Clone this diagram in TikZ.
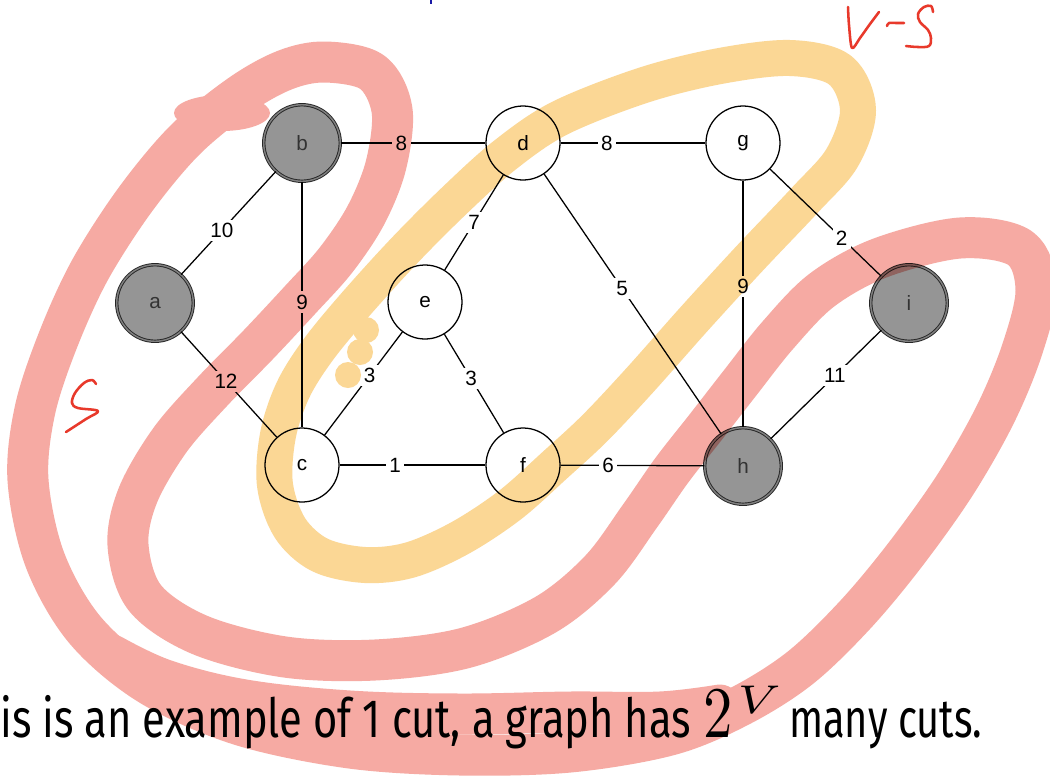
\documentclass[tikz,border=0pt]{standalone}
\usepackage{graphicx}
\usepackage{fontspec}
\setmainfont{Liberation Sans}
\newfontfamily\firafont{Fira Sans}
\definecolor{penred}{HTML}{F6AAA3}
\definecolor{penyellow}{HTML}{FBD795}
\definecolor{inkred}{HTML}{E8392B}
\definecolor{nodegrey}{HTML}{959595}
\definecolor{inkblue}{HTML}{1A1AA6}
\tikzset{
  vtx/.style={circle, draw=black, line width=0.95pt, minimum size=55.5pt, inner sep=0pt,
    font=\fontsize{15.5}{18}\selectfont},
  svtx/.style={circle, draw=black!85, fill=nodegrey, line width=0.7pt, double=black!50,
    double distance=1.1pt, minimum size=57.4pt, inner sep=0pt, text=black!80,
    font=\fontsize{15.5}{18}\selectfont},
  edge/.style={line width=0.95pt, black},
  wlabel/.style={fill=white, inner sep=2.5pt, font=\fontsize{15.5}{18}\selectfont},
  penline/.style={line cap=round, line join=round},
  ink/.style={inkred, line width=1.9pt, line cap=round, line join=round},
  bottomtext/.style={anchor=base west, inner sep=0pt},
}
\begin{document}
\begin{tikzpicture}[x=0.75pt,y=-0.75pt]
\useasboundingbox (0,0) rectangle (1050,776);
\fill[white] (0,0) rectangle (1050,776);

% vertices
\node[svtx] (a) at (155,303) {a};
\node[svtx] (b) at (302,143) {b};
\node[vtx]  (c) at (302,465) {c};
\node[vtx]  (d) at (523,143) {d};
\node[vtx]  (e) at (425,302) {e};
\node[vtx]  (f) at (523,465) {f};
\node[vtx]  (g) at (743,143) {g};
\node[svtx] (h) at (743,466) {h};
\node[svtx] (i) at (909,303) {i};

% edges
\draw[edge] (a) -- node[wlabel, pos=0.43] {10} (b);
\draw[edge] (b) -- node[wlabel, pos=0.49] {9} (c);
\draw[edge] (a) -- node[wlabel, pos=0.47] {12} (c);
\draw[edge] (b) -- node[wlabel, pos=0.42] {8} (d);
\draw[edge] (d) -- node[wlabel, pos=0.32] {8} (g);
\draw[edge] (d) -- node[wlabel, pos=0.5] {7} (e);
\draw[edge] (d) -- node[wlabel, pos=0.44] {5} (h);
\draw[edge] (g) -- node[wlabel, pos=0.43] {9} (h);
\draw[edge] (g) -- node[wlabel, pos=0.645] {2} (i);
\draw[edge] (i) -- node[wlabel, pos=0.42] {11} (h);
\draw[edge] (c) -- node[wlabel, pos=0.58] {3} (e);
\draw[edge] (e) -- node[wlabel, pos=0.45] {3} (f);
\draw[edge] (c) -- node[wlabel, pos=0.38] {1} (f);
\draw[edge] (f) -- node[wlabel, pos=0.33] {6} (h);

% bottom text
\node[bottomtext] (t1) at (0,737) {\resizebox{518pt}{\height}{\firafont\fontsize{40.5}{48}\selectfont is is an example of 1 cut, a graph has}};
\node[bottomtext] (t2) at (703,737) {\scalebox{4.4}[5.45]{$2$}\hspace{3.5pt}\raisebox{17.5pt}{\scalebox{5.1}[4.3]{$\scriptstyle V$}}};
\node[bottomtext] (t3) at (789,737) {\resizebox{144.75pt}{\height}{\firafont\fontsize{40.5}{48}\selectfont many cuts.}};

% highlighter strokes (multiplied onto the drawing)
\begin{scope}[blend mode=multiply]
\begin{scope}[transparency group]
\draw[penred, line width=30.75pt, penline] plot[smooth cycle, tension=0.55] coordinates {
 (325,62) (372,72) (392,110) (386,165) (366,215) (336,260) (300,300) (258,345)
 (212,392) (170,440) (138,495) (128,545) (145,598) (200,635) (285,657) (375,660)
 (465,648) (545,615) (600,570) (640,516) (672,470) (705,428) (740,383) (778,335)
 (822,290) (880,258) (960,238) (1020,248) (1036,290) (1022,350) (995,415) (955,485)
 (905,555) (855,615) (800,668) (740,706) (670,735) (570,752) (460,755) (350,748)
 (240,725) (150,685) (85,630) (45,560) (28,480) (35,410) (58,340) (90,270)
 (135,200) (185,140) (240,95) (285,70)};
\draw[penred, line width=30.75pt, penline] plot[smooth, tension=0.6] coordinates {
 (112,655) (165,680) (245,700) (350,711) (460,714) (570,712) (660,712) (720,705)};
\fill[penred] (222,113) ellipse [x radius=48, y radius=18];
\draw[penyellow, line width=27pt, penline] plot[smooth cycle, tension=0.55] coordinates {
 (455,200) (505,155) (560,118) (644,85) (720,66) (790,58) (840,70) (858,110)
 (842,158) (805,200) (750,258) (695,318) (640,380) (595,428) (555,465) (510,505)
 (460,538) (410,560) (365,565) (320,555) (290,528) (275,485) (278,435) (293,390)
 (318,350) (355,305) (405,250)};
\fill[penyellow] (366,330) circle [radius=13];
\fill[penyellow] (360,352) circle [radius=13];
\fill[penyellow] (348,375) circle [radius=13];
\end{scope}
\end{scope}

% handwriting
\draw[ink] plot[smooth, tension=0.6] coordinates {(96,384) (92,380) (84,383) (75,393) (72,403) (78,408) (98,411) (86,419) (66,432)};
\draw[ink] plot[smooth, tension=0.5] coordinates {(848,7) (849,25) (852,48) (860,38) (870,24) (879,12)};
\draw[ink] plot[smooth, tension=0.5] coordinates {(887,26) (889,23) (896,23) (904,23)};
\draw[ink] plot[smooth, tension=0.6] coordinates {(933,12) (931,6) (924,7) (918,14) (920,22) (928,30) (931,38) (929,46) (918,47) (906,46)};

% small blue mark at top
\draw[inkblue, line width=1.5pt] (431,0) -- (431,4);
\end{tikzpicture}
\end{document}
